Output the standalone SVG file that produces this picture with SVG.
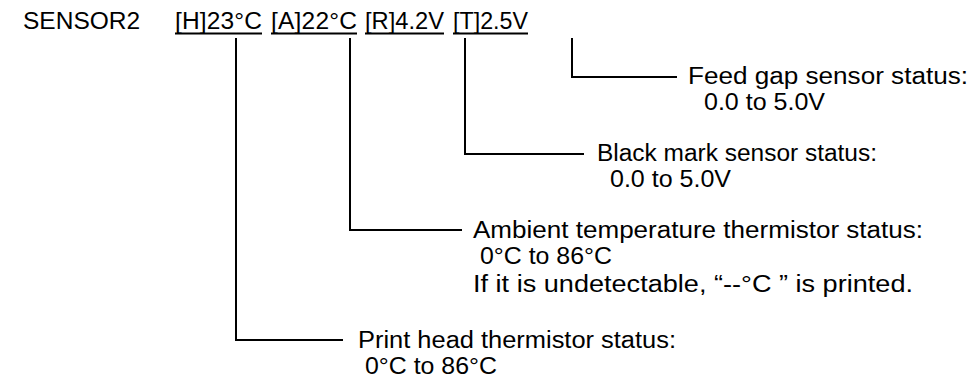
<svg xmlns="http://www.w3.org/2000/svg" width="976" height="390" viewBox="0 0 976 390">
<style>
text{font-family:"Liberation Sans",Arial,sans-serif;font-size:23px;fill:#000}
text.h{font-size:24.5px}
line,polyline{stroke:#000;stroke-width:2;fill:none}
</style>
<rect width="976" height="390" fill="#fff"/>
<g id="header">
<text class="h" x="23" y="29">SENSOR2</text>
<text class="h" x="175" y="29" textLength="87" lengthAdjust="spacing">[H]23°C</text>
<text class="h" x="271" y="29" textLength="86" lengthAdjust="spacing">[A]22°C</text>
<text class="h" x="365" y="29" textLength="79" lengthAdjust="spacingAndGlyphs">[R]4.2V</text>
<text class="h" x="453" y="29" textLength="75" lengthAdjust="spacingAndGlyphs">[T]2.5V</text>
<line x1="175" y1="33.5" x2="262" y2="33.5"/>
<line x1="271" y1="33.5" x2="357" y2="33.5"/>
<line x1="365" y1="33.5" x2="444" y2="33.5"/>
<line x1="453" y1="33.5" x2="528" y2="33.5"/>
</g>
<g id="connectors">
<polyline points="572,38 572,77 677,77"/>
<polyline points="465,38 465,154 584,154"/>
<polyline points="350,38 350,230 462,230"/>
<polyline points="236,38 236,340 343,340"/>
</g>
<g id="feed">
<text x="688" y="84" textLength="280" lengthAdjust="spacingAndGlyphs">Feed gap sensor status:</text>
<text x="704" y="110" textLength="121" lengthAdjust="spacingAndGlyphs">0.0 to 5.0V</text>
</g>
<g id="black">
<text x="597" y="161" textLength="280" lengthAdjust="spacingAndGlyphs">Black mark sensor status:</text>
<text x="610" y="187" textLength="121" lengthAdjust="spacingAndGlyphs">0.0 to 5.0V</text>
</g>
<g id="ambient">
<text x="473" y="238" textLength="450" lengthAdjust="spacingAndGlyphs">Ambient temperature thermistor status:</text>
<text x="480" y="264" textLength="132" lengthAdjust="spacingAndGlyphs">0°C to 86°C</text>
<text x="473" y="292" textLength="440" lengthAdjust="spacingAndGlyphs">If it is undetectable, “--°C ” is printed.</text>
</g>
<g id="head">
<text x="358" y="348" textLength="318" lengthAdjust="spacingAndGlyphs">Print head thermistor status:</text>
<text x="365" y="374" textLength="132" lengthAdjust="spacingAndGlyphs">0°C to 86°C</text>
</g>
</svg>
